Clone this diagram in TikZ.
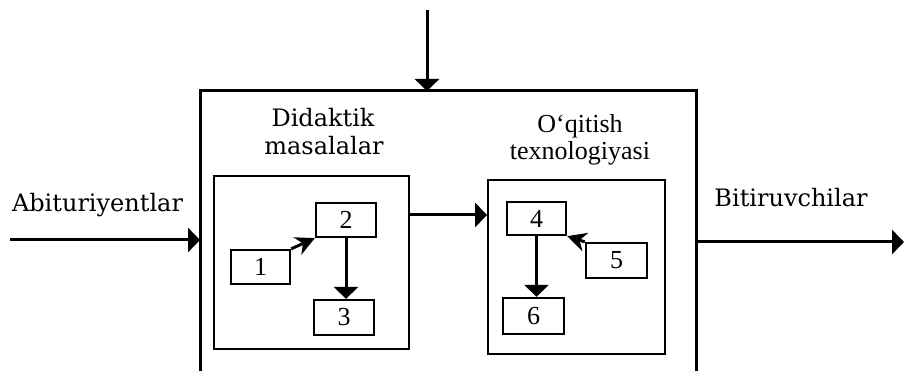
\documentclass[tikz,border=0pt]{standalone}
\usepackage{fontspec}
\setmainfont{Liberation Serif}
\newfontfamily\widefont{DejaVu Serif}
\usetikzlibrary{arrows.meta}
\begin{document}
\begin{tikzpicture}[x=1pt,y=-1pt,
  numbox/.style={draw, line width=2.3pt, inner sep=0pt, font=\fontsize{26}{26}\selectfont},
  frame/.style={draw, line width=1.9pt, inner sep=0pt},
  outline/.style={line width=3pt},
  conn/.style={line width=3pt, -{Triangle[length=12pt,width=24pt]}},
  slant/.style={line width=3pt, -{Stealth[length=19pt,width=19pt,inset=6pt]}},
  widelbl/.style={anchor=base, font=\widefont\fontsize{24}{24}\selectfont},
  timeslbl/.style={anchor=base, font=\fontsize{26}{26}\selectfont}]
\useasboundingbox (0,0) rectangle (904,371);
% outer open box
\coordinate (obl) at (200,373);
\coordinate (otl) at (200,91);
\coordinate (otr) at (696,91);
\coordinate (obr) at (696,373);
\draw[outline] (obl) -- (otl) -- (otr) -- (obr);
% inner frames
\node[frame, minimum width=195pt, minimum height=173pt] (lf) at (311.5,262.5) {};
\node[frame, minimum width=177pt, minimum height=174pt] (rf) at (576.5,267) {};
% number boxes
\node[numbox, minimum width=59pt, minimum height=34pt] (n1) at (260.5,267) {1};
\node[numbox, minimum width=60pt, minimum height=34pt] (n2) at (346,220) {2};
\node[numbox, minimum width=60pt, minimum height=35pt] (n3) at (344,317.5) {3};
\node[numbox, minimum width=59pt, minimum height=33pt] (n4) at (536.5,218.5) {4};
\node[numbox, minimum width=61pt, minimum height=35pt] (n5) at (616.5,260.5) {5};
\node[numbox, minimum width=61pt, minimum height=36pt] (n6) at (533.5,316) {6};
% labels
\node[widelbl] (abit) at (97.5,212) {Abituriyentlar};
\node[widelbl] (did) at (323,127) {Didaktik};
\node[widelbl] (mas) at (324,155) {masalalar};
\node[timeslbl] (oqi) at (580,133) {O‘qitish};
\node[timeslbl] (tex) at (580,160) {texnologiyasi};
\node[widelbl] (bit) at (791,207) {Bitiruvchilar};
% connectors
\coordinate (topin) at (427,10);
\draw[conn] (topin) -- (topin |- otl);
\coordinate (leftin) at (10,240);
\draw[conn] (leftin) -- (leftin -| otl);
\coordinate (rightout) at (904,242);
\draw[conn] (rightout -| otr) -- (rightout);
\coordinate (mid) at (0,215);
\draw[conn] (lf.east |- mid) -- (rf.west |- mid);
\draw[slant] (n1.north east) -- (n2.south west);
\draw[conn] (n2.south) -- (n2.south |- n3.north);
\draw[conn] (n4.south) -- (n4.south |- n6.north);
\draw[slant] (n5.north west) -- (n4.south east);
\end{tikzpicture}
\end{document}
